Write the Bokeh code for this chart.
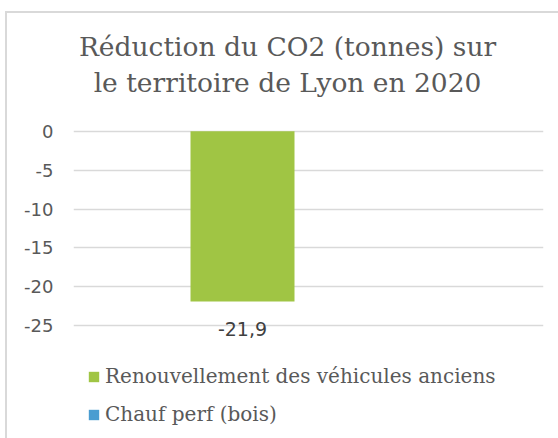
from bokeh.plotting import figure
from bokeh.models import Range1d, Label, Legend, LegendItem, FixedTicker
from bokeh.embed import file_html
from bokeh.resources import INLINE

# ---- data ----
series = ["Renouvellement des véhicules anciens", "Chauf perf (bois)"]
values = [-21.9, 0.0]
labels = ["-21,9", ""]
colors = ["#A0C544", "#4A9DD1"]
y_ticks = [0, -5, -10, -15, -20, -25]
y_tick_labels = ["0", "-5", "-10", "-15", "-20", "-25"]
title_lines = ["Réduction du CO2 (tonnes) sur", "le territoire de Lyon en 2020"]

SERIF = "DejaVu Serif"
SANS = "DejaVu Sans"
GRAY = "#595959"

p = figure(frame_width=470, frame_height=429,
           min_border_left=66, min_border_right=19,
           min_border_top=0, min_border_bottom=0,
           x_range=Range1d(-1.625, 2.894), y_range=Range1d(-40.035, 15.163),
           output_backend="svg", toolbar_location=None, tools="")
p.styles = {"margin-left": "5px", "margin-top": "11px",
            "border-top": "2px solid #D9D9D9", "border-left": "2px solid #D9D9D9"}
p.outline_line_color = None
p.background_fill_color = "white"
p.border_fill_color = "white"

renderers = []
for i, (v, c) in enumerate(zip(values, colors)):
    r = p.vbar(x=[i], top=[0], bottom=[v], width=1.0, fill_color=c, line_color=None)
    renderers.append(r)

for i, (v, t) in enumerate(zip(values, labels)):
    if t:
        p.add_layout(Label(x=i, y=-25.43, text=t, text_align="center", text_baseline="middle",
                           text_font=SANS, text_font_size="19px", text_color="#404040"))

# axes
p.xaxis.visible = False
p.xgrid.visible = False
yax = p.yaxis[0]
yax.ticker = FixedTicker(ticks=y_ticks)
yax.major_label_overrides = {t: s for t, s in zip(y_ticks, y_tick_labels)}
yax.axis_line_color = None
yax.major_tick_line_color = None
yax.minor_tick_line_color = None
yax.major_tick_out = 0
yax.major_tick_in = 0
yax.major_label_standoff = 20
yax.major_label_text_font = SANS
yax.major_label_text_font_size = "18px"
yax.major_label_text_color = GRAY
p.ygrid.ticker = FixedTicker(ticks=y_ticks)
p.ygrid.grid_line_color = "#D9D9D9"
p.ygrid.grid_line_width = 1.6

# title
for txt, yy in zip(title_lines, [10.91, 6.29]):
    p.add_layout(Label(x=0.433, y=yy, text=txt, text_align="center", text_baseline="alphabetic",
                       text_font=SERIF, text_font_size="26.5px", text_color=GRAY))

# legend
items = [LegendItem(label=s, renderers=[r]) for s, r in zip(series, renderers)]
legend = Legend(items=items, location=(14, 16), orientation="vertical",
                glyph_width=13, glyph_height=13, label_height=24, label_standoff=5,
                spacing=14, padding=0, margin=0,
                label_text_font=SERIF, label_text_font_size="20px", label_text_color=GRAY,
                label_text_baseline="alphabetic",
                border_line_color=None, background_fill_alpha=0)
p.add_layout(legend, "center")

open("out.html", "w").write(file_html(p, INLINE))
